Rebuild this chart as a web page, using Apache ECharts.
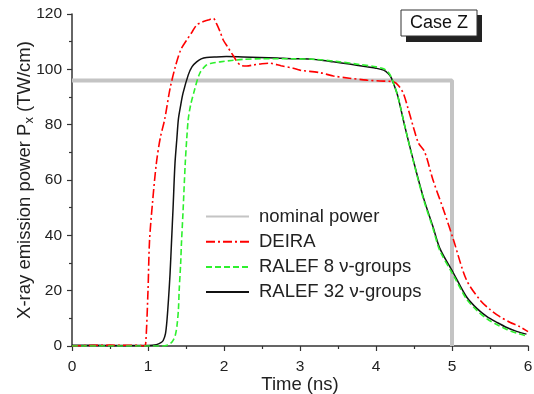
<!DOCTYPE html>
<html><head><meta charset="utf-8">
<script src="https://cdn.jsdelivr.net/npm/echarts@6/dist/echarts.min.js"></script>
<style>html,body{margin:0;padding:0;background:#fff}#c{width:534px;height:394px}</style>
</head><body><div id="c"></div>
<script>
const xTicks = [0,1,2,3,4,5,6];
const yTicks = [0,20,40,60,80,100,120];

const nominalT = [0, 5, 5];
const nominalP = [96, 96, 0];

const deiraT = [0,0.5,0.9,0.95,0.97,1.0,1.02,1.06,1.11,1.16,1.22,1.29,1.36,1.43,1.51,1.58,1.64,1.72,1.79,1.86,1.90,1.95,1.99,2.05,2.12,2.21,2.3,2.39,2.5,2.6,2.75,2.91,3.0,3.26,3.44,3.65,3.88,4.05,4.23,4.3,4.36,4.42,4.49,4.56,4.64,4.75,4.89,5.02,5.19,5.37,5.5,5.63,5.76,5.89,6.0];
const deiraP = [0,0.3,0.2,0,1,20,38,52,66,75,82,93,101,107,110.6,113.5,116,117.2,117.8,118.4,116.6,113.5,110.6,108,105,101.6,101.2,101.6,102,102.2,101.3,100.4,99.7,98.8,97.6,96.8,96.1,95.8,95.5,94,91.3,86,79.3,73.3,70.2,60,49.1,38.3,23.9,16.6,13.2,10.6,8.6,7.0,5.2];

const r8T = [0,0.5,1.0,1.2,1.25,1.3,1.33,1.36,1.38,1.40,1.41,1.43,1.44,1.46,1.49,1.51,1.53,1.56,1.60,1.68,1.77,1.85,1.95,2.1,2.25,2.5,2.91,3.2,3.5,3.8,4.0,4.1,4.16,4.2,4.23,4.28,4.32,4.38,4.49,4.62,4.75,4.84,5.02,5.19,5.33,5.46,5.6,5.72,5.85,5.98];
const r8P = [0,0,0,0,0.3,1,2,4,7,13,20,30,37,48,66,75,82,87,91.3,98.5,101.6,102.3,102.7,103.2,103.6,103.8,103.8,103.6,102.8,101.7,100.9,100.2,99,97.2,95,91,86.5,79.3,67,53.5,42.5,34.5,25.5,17,12.8,9.8,7.6,6,4.7,3.6];

const r32T = [0,0.5,1.0,1.11,1.17,1.2,1.23,1.25,1.27,1.29,1.31,1.33,1.355,1.38,1.40,1.43,1.46,1.53,1.58,1.64,1.70,1.77,1.9,2.03,2.25,2.47,2.7,2.91,3.0,3.26,3.44,3.65,3.88,4.0,4.10,4.16,4.2,4.23,4.28,4.32,4.38,4.49,4.62,4.75,4.84,5.02,5.19,5.33,5.46,5.6,5.72,5.85,5.98];
const r32P = [0.3,0.2,0.2,0.5,1.2,2,4.5,9.4,17,26,38,50,66,75,82,87,91.3,98,101,102.7,103.8,104.3,104.5,104.6,104.5,104.3,104.1,103.8,103.8,103.4,102.7,101.9,100.9,100.4,99.7,98.5,97,94.9,91,86.5,79.3,67.2,54,43.1,35.3,26.3,17.8,13.5,10.6,8.4,6.7,5.3,4.3];

const names = ['nominal power','DEIRA','RALEF 8 \u03bd-groups','RALEF 32 \u03bd-groups'];
const zip = (t,p) => t.map((v,i)=>[v,p[i]]);
const FONT = 'Liberation Sans, Arial, sans-serif';

const chart = echarts.init(document.getElementById('c'), null, {renderer:'canvas'});
chart.setOption({
  animation:false,
  grid:{left:72,right:6,top:14,bottom:48,containLabel:false,outerBoundsMode:'none'},
  xAxis:{type:'value',min:0,max:6,interval:1,
    name:'Time (ns)',nameLocation:'middle',nameGap:29,nameMoveOverlap:false,
    nameTextStyle:{fontFamily:FONT,fontSize:18.5,color:'#222'},
    axisLine:{lineStyle:{color:'#333',width:1.5}},
    axisTick:{inside:false,length:5,lineStyle:{color:'#333',width:1.2}},
    minorTick:{show:true,splitNumber:2,length:3,lineStyle:{color:'#333',width:1.2}},
    axisLabel:{fontFamily:FONT,fontSize:15.5,color:'#222',margin:13},
    splitLine:{show:false}},
  yAxis:{type:'value',min:0,max:120,interval:20,
    name:'{n|X-ray emission power P}{s|x}{n| (TW/cm)}',nameLocation:'middle',nameGap:36,nameRotate:90,nameMoveOverlap:false,
    nameTextStyle:{fontFamily:FONT,fontSize:18.5,color:'#222',
      rich:{n:{fontFamily:FONT,fontSize:18.5,color:'#222',lineHeight:22},
            s:{fontFamily:FONT,fontSize:13,color:'#222',lineHeight:22,verticalAlign:'bottom',padding:[7,0,0,0]}}},
    axisLine:{show:true,lineStyle:{color:'#333',width:1.5}},
    axisTick:{show:true,inside:false,length:5,lineStyle:{color:'#333',width:1.2}},
    minorTick:{show:true,splitNumber:2,length:3,lineStyle:{color:'#333',width:1.2}},
    axisLabel:{fontFamily:FONT,fontSize:15.5,color:'#222',margin:10},
    splitLine:{show:false}},
  legend:{left:205,top:207,padding:0,orient:'vertical',itemWidth:43,itemHeight:18,itemGap:6.2,
    itemStyle:{opacity:0,borderWidth:0},
    textStyle:{fontFamily:FONT,fontSize:18.5,color:'#222',padding:[0,0,0,5]},
    data:names},
  graphic:[
    {type:'rect',shape:{x:406,y:15,width:76,height:27},style:{fill:'#222'},z:10},
    {type:'rect',shape:{x:401,y:10,width:76,height:26},style:{fill:'#fff',stroke:'#333',lineWidth:1},z:11},
    {type:'text',x:439,y:23.5,style:{text:'Case Z',fontFamily:FONT,fontSize:18,fill:'#111',align:'center',verticalAlign:'middle'},z:12}
  ],
  series:[
    {name:names[0],type:'line',data:zip(nominalT,nominalP),symbol:'none',
      lineStyle:{color:'#c4c4c4',width:4},itemStyle:{color:'#c4c4c4'},z:1},
    {name:names[1],type:'line',data:zip(deiraT,deiraP),symbol:'none',smooth:0.3,
      lineStyle:{color:'#ff0000',width:1.6,type:[9,3,2,3]},itemStyle:{color:'#ff0000'},z:3},
    {name:names[2],type:'line',data:zip(r8T,r8P),symbol:'none',smooth:0.3,
      lineStyle:{color:'#2ef02e',width:1.6,type:[6,3]},itemStyle:{color:'#2ef02e'},z:4},
    {name:names[3],type:'line',data:zip(r32T,r32P),symbol:'none',smooth:0.3,
      lineStyle:{color:'#111',width:1.5},itemStyle:{color:'#111'},z:2}
  ]
});
</script></body></html>
